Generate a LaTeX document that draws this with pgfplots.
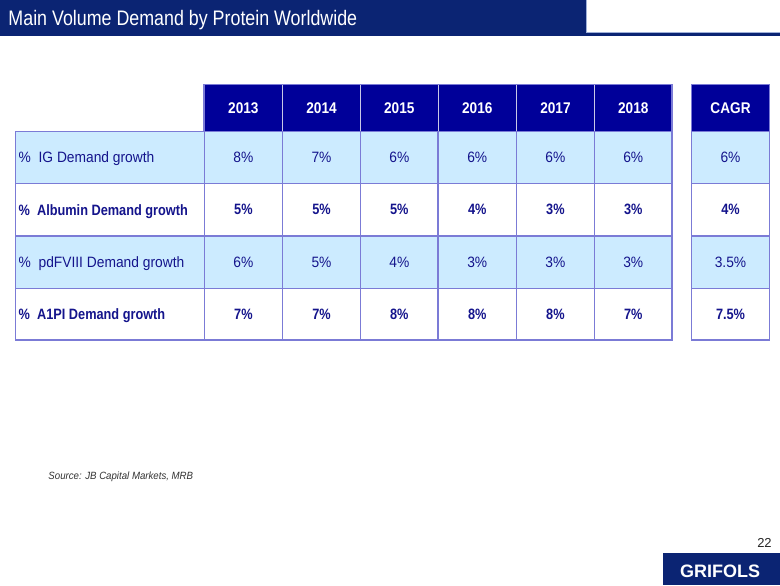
\documentclass[border=0pt]{standalone}
\usepackage{pgfplots}
\pgfplotsset{compat=1.18}
\usepackage{pgfplotstable}
\usepackage{fontspec}
\setmainfont{Liberation Sans}
\newfontfamily\bodyfont[FakeStretch=0.92]{Liberation Sans}
\newfontfamily\boldfont[FakeStretch=0.85]{Liberation Sans}
\newfontfamily\headfont[FakeStretch=0.88]{Liberation Sans}
\newfontfamily\titlefont[FakeStretch=0.85]{Liberation Sans}
\definecolor{barblue}{HTML}{0B2473}
\definecolor{headblue}{HTML}{000099}
\definecolor{rowblue}{HTML}{CCEBFF}
\definecolor{gridblue}{HTML}{7B7BD6}
\definecolor{txtblue}{HTML}{14148C}
\definecolor{hdiv}{HTML}{C8C8E6}
\definecolor{edgeblue}{HTML}{9FB0D8}

% x = column centre, y = row centre, v = value in percent
\pgfplotstableread{
x y v
243.5 107.5 2013
321.7 107.5 2014
399.5 107.5 2015
477.5 107.5 2016
555.7 107.5 2017
633.6 107.5 2018
730.9 107.5 CAGR
}\headtable
\pgfplotstableread{
x y v
243.5 157.2 8
321.7 157.2 7
399.5 157.2 6
477.5 157.2 6
555.7 157.2 6
633.6 157.2 6
730.9 157.2 6
}\igtable
\pgfplotstableread{
x y v
243.5 209.5 5
321.7 209.5 5
399.5 209.5 5
477.5 209.5 4
555.7 209.5 3
633.6 209.5 3
730.9 209.5 4
}\albtable
\pgfplotstableread{
x y v
243.5 262.0 6
321.7 262.0 5
399.5 262.0 4
477.5 262.0 3
555.7 262.0 3
633.6 262.0 3
730.9 262.0 3.5
}\pdftable
\pgfplotstableread{
x y v
243.5 314.2 7
321.7 314.2 7
399.5 314.2 8
477.5 314.2 8
555.7 314.2 8
633.6 314.2 7
730.9 314.2 7.5
}\aaptable

\begin{document}
\begin{tikzpicture}
\begin{axis}[
  width=780pt, height=585pt, scale only axis,
  xmin=0, xmax=780, ymin=0, ymax=585, y dir=reverse,
  hide axis, clip=false,
  every axis plot/.append style={draw=none, mark=none},
  point meta=explicit symbolic,
  nodes near coords align={center},
]
% background
\fill[white] (axis cs:0,0) rectangle (axis cs:780,585);
% title bar
\fill[barblue] (axis cs:0,0) rectangle (axis cs:586,36);
\fill[barblue] (axis cs:0,32.5) rectangle (axis cs:780,36);
\draw[edgeblue, line width=0.8pt] (axis cs:586.4,0) -- (axis cs:586.4,32.3) -- (axis cs:780,32.3);
\node[anchor=base west, inner sep=0, text=white, font=\titlefont\fontsize{21}{21}\selectfont]
  at (axis cs:8.3,25) {Main Volume Demand by Protein Worldwide};

% row fills
\fill[rowblue] (axis cs:15.7,131) rectangle (axis cs:672.5,183.3);
\fill[rowblue] (axis cs:15.7,235.7) rectangle (axis cs:672.5,288.3);
\fill[rowblue] (axis cs:691.7,131) rectangle (axis cs:770,183.3);
\fill[rowblue] (axis cs:691.7,235.7) rectangle (axis cs:770,288.3);
% header fills
\fill[headblue] (axis cs:204.3,84) rectangle (axis cs:672.5,131);
\fill[headblue] (axis cs:691.7,84) rectangle (axis cs:770,131);
% header dividers
\pgfplotsinvokeforeach{282.7,360.7,438.3,516.7,594.7}{
  \draw[hdiv, line width=1pt] (axis cs:#1,84) -- (axis cs:#1,131);
}
% body grid
\pgfplotsinvokeforeach{131,183.3,235.7,288.3}{
  \draw[gridblue, line width=1.2pt] (axis cs:15.7,#1) -- (axis cs:672.5,#1);
  \draw[gridblue, line width=1.2pt] (axis cs:691.7,#1) -- (axis cs:770,#1);
}
\pgfplotsinvokeforeach{204.3,282.7,360.7,438.3,516.7,594.7}{
  \draw[gridblue, line width=1.2pt] (axis cs:#1,131) -- (axis cs:#1,340);
}
\draw[gridblue, line width=1.6pt] (axis cs:15.7,131) -- (axis cs:15.7,340) -- (axis cs:672.5,340) -- (axis cs:672.5,84) -- (axis cs:204.3,84) -- (axis cs:204.3,131);
\draw[gridblue, line width=1.6pt] (axis cs:691.7,84) rectangle (axis cs:770,340);

% header texts
\addplot[nodes near coords,
  every node near coord/.append style={inner sep=0, text=white, font=\headfont\bfseries\fontsize{15.5}{15.5}\selectfont}]
  table[x=x, y=y, meta=v] {\headtable};
% values
\addplot[nodes near coords={\pgfplotspointmeta\%},
  every node near coord/.append style={inner sep=0, text=txtblue, font=\bodyfont\fontsize{15}{15}\selectfont}]
  table[x=x, y=y, meta=v] {\igtable};
\addplot[nodes near coords={\pgfplotspointmeta\%},
  every node near coord/.append style={inner sep=0, text=txtblue, font=\boldfont\bfseries\fontsize{15}{15}\selectfont}]
  table[x=x, y=y, meta=v] {\albtable};
\addplot[nodes near coords={\pgfplotspointmeta\%},
  every node near coord/.append style={inner sep=0, text=txtblue, font=\bodyfont\fontsize{15}{15}\selectfont}]
  table[x=x, y=y, meta=v] {\pdftable};
\addplot[nodes near coords={\pgfplotspointmeta\%},
  every node near coord/.append style={inner sep=0, text=txtblue, font=\boldfont\bfseries\fontsize{15}{15}\selectfont}]
  table[x=x, y=y, meta=v] {\aaptable};

% row labels
\node[anchor=base west, inner sep=0, text=txtblue, font=\bodyfont\fontsize{15}{15}\selectfont]
  at (axis cs:18.5,162.6) {\%\ \ IG Demand growth};
\node[anchor=base west, inner sep=0, text=txtblue, font=\boldfont\bfseries\fontsize{15}{15}\selectfont]
  at (axis cs:18.5,214.9) {\%\ \ Albumin Demand growth};
\node[anchor=base west, inner sep=0, text=txtblue, font=\bodyfont\fontsize{15}{15}\selectfont]
  at (axis cs:18.5,267.4) {\%\ \ pdFVIII Demand growth};
\node[anchor=base west, inner sep=0, text=txtblue, font=\boldfont\bfseries\fontsize{15}{15}\selectfont]
  at (axis cs:18.5,319.6) {\%\ \ A1PI Demand growth};

% source
\node[anchor=base west, inner sep=0, text=black!80, font=\bodyfont\itshape\fontsize{10.5}{10.5}\selectfont]
  at (axis cs:48.3,479.2) {Source: JB Capital Markets, MRB};
% page number
\node[anchor=base east, inner sep=0, text=black!85, font=\fontsize{13}{13}\selectfont]
  at (axis cs:772.3,547.3) {22};
% logo
\fill[barblue] (axis cs:663.3,553.3) rectangle (axis cs:780,585);
\node[anchor=base, inner sep=0, text=white, font=\bfseries\fontsize{18}{18}\selectfont]
  at (axis cs:720.5,577.3) {GRIFOLS};
\end{axis}
\end{tikzpicture}
\end{document}
